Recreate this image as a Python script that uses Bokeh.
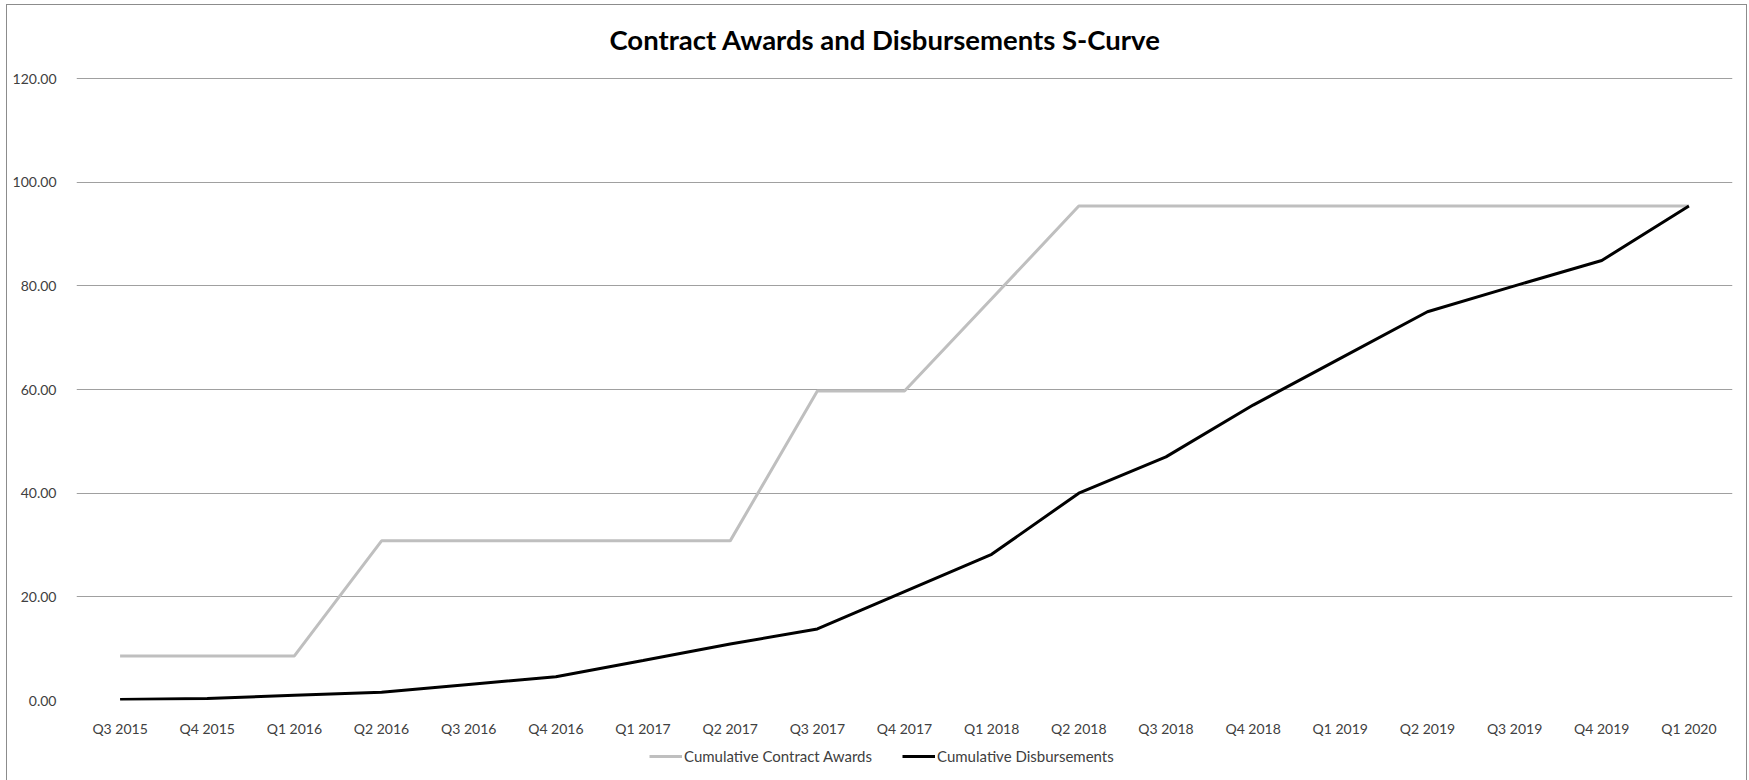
from bokeh.plotting import figure
from bokeh.layouts import column
from bokeh.models import (FactorRange, Range1d, FixedTicker, NumeralTickFormatter,
                          Legend, LegendItem, Label)
from bokeh.embed import file_html
from bokeh.resources import INLINE

quarters = ["Q3 2015", "Q4 2015", "Q1 2016", "Q2 2016", "Q3 2016", "Q4 2016",
            "Q1 2017", "Q2 2017", "Q3 2017", "Q4 2017", "Q1 2018", "Q2 2018",
            "Q3 2018", "Q4 2018", "Q1 2019", "Q2 2019", "Q3 2019", "Q4 2019", "Q1 2020"]
contract_awards = [8.6, 8.6, 8.6, 30.8, 30.8, 30.8, 30.8, 30.8, 59.7, 59.7,
                   77.5, 95.4, 95.4, 95.4, 95.4, 95.4, 95.4, 95.4, 95.4]
disbursements = [0.2, 0.4, 1.0, 1.6, 3.1, 4.6, 7.7, 10.9, 13.8, 21.0,
                 28.2, 40.0, 47.0, 57.0, 66.0, 75.0, 80.0, 84.9, 95.4]
y_ticks = [0, 20, 40, 60, 80, 100, 120]
series_names = ["Cumulative Contract Awards", "Cumulative Disbursements"]
series_colors = ["#BFBFBF", "#000000"]
title_text = "Contract Awards and Disbursements S-Curve"

FONT = "Lato"
TXT = "#404040"
W = 1739


def strip(height, x_range, y_range):
    s = figure(width=W, height=height, x_range=x_range, y_range=y_range,
               output_backend="svg", toolbar_location=None, x_axis_type=None,
               y_axis_type=None, min_border=0)
    s.outline_line_color = None
    s.grid.grid_line_color = None
    s.border_fill_color = "white"
    s.background_fill_color = "white"
    return s


# title strip
ts = strip(55, Range1d(0, 1), Range1d(0, 1))
ts.add_layout(Label(x=0.4883, y=0.38, text=title_text, text_align="center",
                    text_baseline="middle", text_font=FONT, text_font_size="27.5px",
                    text_font_style="bold", text_color="#000000"))

# main chart
p = figure(width=W, height=680, x_range=FactorRange(factors=quarters),
           y_range=Range1d(0, 120.4), output_backend="svg", toolbar_location=None,
           min_border_left=69, min_border_right=14, min_border_top=16,
           min_border_bottom=40)
p.outline_line_color = None
p.background_fill_color = "white"
p.border_fill_color = "white"

r1 = p.line(quarters, contract_awards, line_color=series_colors[0], line_width=3)
r2 = p.line(quarters, disbursements, line_color=series_colors[1], line_width=3)

p.xgrid.grid_line_color = None
p.ygrid.grid_line_color = "#A0A0A0"
p.ygrid.grid_line_width = 1
p.yaxis.ticker = FixedTicker(ticks=y_ticks)
p.yaxis.formatter = NumeralTickFormatter(format="0.00")

for ax in (p.xaxis[0], p.yaxis[0]):
    ax.axis_line_color = None
    ax.major_tick_line_color = None
    ax.minor_tick_line_color = None
    ax.major_label_text_font = FONT
    ax.major_label_text_font_size = "14px"
    ax.major_label_text_color = TXT
p.yaxis.major_label_standoff = 14
p.xaxis.major_label_standoff = 13

# legend strip below the chart (its y range sits below the data, so only the legend shows)
lg = strip(40, FactorRange(factors=quarters), Range1d(-2, -1))
l1 = lg.line(quarters, contract_awards, line_color=series_colors[0], line_width=3)
l2 = lg.line(quarters, disbursements, line_color=series_colors[1], line_width=3)
legend = Legend(items=[LegendItem(label=series_names[0], renderers=[l1]),
                       LegendItem(label=series_names[1], renderers=[l2])],
                orientation="horizontal", location=(573, 14),
                label_text_font=FONT, label_text_font_size="15px",
                label_text_color=TXT, glyph_width=33, label_standoff=2,
                spacing=30, padding=4, margin=0,
                border_line_color=None, background_fill_alpha=0)
lg.add_layout(legend, "center")

layout = column(ts, p, lg, spacing=0,
                styles={"margin-left": "6px", "margin-top": "4px",
                        "border": "1px solid #8C8C8C", "border-bottom": "none",
                        "gap": "0px"})

open("out.html", "w").write(file_html(layout, INLINE))
